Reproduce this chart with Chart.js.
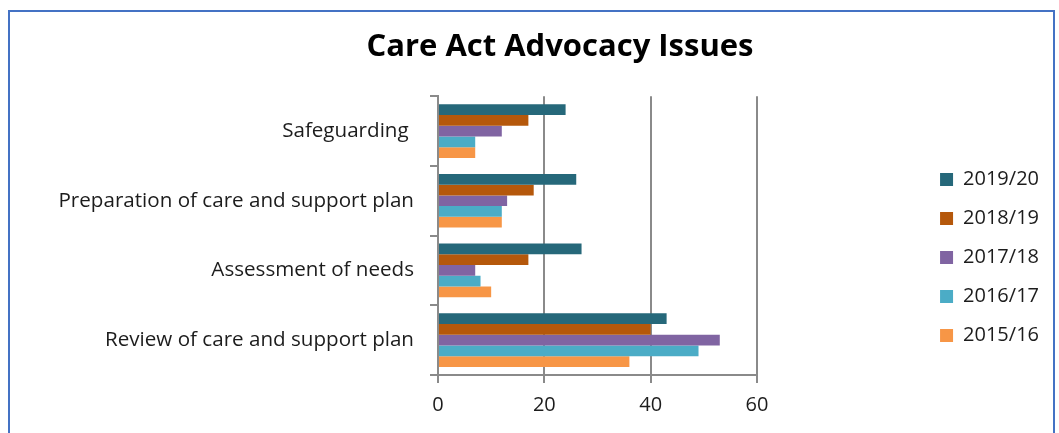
<!DOCTYPE html>
<html>
<head>
<meta charset="utf-8">
<title>Care Act Advocacy Issues</title>
<script src="https://cdn.jsdelivr.net/npm/chart.js@4/dist/chart.umd.min.js"></script>
<style>
  html, body { margin: 0; padding: 0; background: #ffffff; }
  #wrap { position: relative; width: 1059px; height: 433px; }
</style>
</head>
<body>
<div id="wrap"><canvas id="chart" width="1059" height="433"></canvas></div>
<script>
// Issue categories, top to bottom
const categories = [
  'Safeguarding ',
  'Preparation of care and support plan',
  'Assessment of needs',
  'Review of care and support plan'
];

// Number of cases per year
const years = ['2019/20', '2018/19', '2017/18', '2016/17', '2015/16'];
const cases2019 = [24, 26, 27, 43];
const cases2018 = [17, 18, 17, 40];
const cases2017 = [12, 13, 7, 53];
const cases2016 = [7, 12, 8, 49];
const cases2015 = [7, 12, 10, 36];

// Value axis ticks
const xTickMin = 0;
const xTickMax = 60;
const xTickStep = 20;

const seriesValues = [cases2019, cases2018, cases2017, cases2016, cases2015];
const seriesColors = ['#26687A', '#B5580B', '#8064A2', '#4BACC6', '#F79646'];

const FONT = '"Open Sans", Lato, sans-serif';
const LABEL_SIZE = 20;
const CATEGORY_SIZE = 20.6;
const AXIS_GREY = '#8a8a8a';
const TEXT = '#1c1c1c';

// Geometry
const LEGEND_BOX = 13;
const LEGEND_PAD = 19;
const RIGHT_PAD = 10;
const PLOT_LEFT = 438;
const PLOT_RIGHT = 757;
const TITLE_CENTER = 560;

// Blue frame round the chart
const framePlugin = {
  id: 'frame',
  beforeDraw(chart) {
    const ctx = chart.ctx;
    ctx.save();
    ctx.fillStyle = '#ffffff';
    ctx.fillRect(0, 0, chart.width, chart.height);
    ctx.strokeStyle = '#4472C4';
    ctx.lineWidth = 2;
    ctx.strokeRect(9, 11, 1045, 520);
    ctx.restore();
  }
};

// Place the title over plot and legend, and drop the legend column
const boxOffsetPlugin = {
  id: 'boxOffset',
  afterLayout(chart) {
    const lg = chart.legend;
    if (lg) {
      lg.top += 41;
      lg.bottom += 41;
    }
    const t = chart.titleBlock;
    if (t) {
      const shift = TITLE_CENTER - (t.left + t.right) / 2;
      t.left += shift;
      t.right += shift;
    }
  }
};

new Chart(document.getElementById('chart'), {
  type: 'bar',
  data: {
    labels: categories,
    datasets: years.map((y, i) => ({
      label: y,
      data: seriesValues[i],
      backgroundColor: seriesColors[i],
      borderWidth: 0,
      categoryPercentage: 0.77,
      barPercentage: 1.0
    }))
  },
  options: {
    indexAxis: 'y',
    responsive: false,
    animation: false,
    devicePixelRatio: 1,
    layout: { padding: { left: 0, right: RIGHT_PAD, top: 0, bottom: 0 } },
    plugins: {
      title: {
        display: true,
        text: 'Care Act Advocacy Issues',
        color: '#000000',
        font: { family: FONT, size: 31, weight: 'bold' },
        padding: { top: 29, bottom: 30 }
      },
      legend: {
        display: true,
        position: 'right',
        align: 'center',
        labels: {
          boxWidth: LEGEND_BOX,
          boxHeight: LEGEND_BOX,
          padding: LEGEND_PAD,
          color: TEXT,
          font: { family: FONT, size: LABEL_SIZE }
        }
      },
      tooltip: { enabled: false }
    },
    scales: {
      x: {
        type: 'linear',
        position: 'bottom',
        min: xTickMin,
        max: xTickMax,
        ticks: {
          stepSize: xTickStep,
          color: TEXT,
          padding: 10,
          font: { family: FONT, size: LABEL_SIZE }
        },
        grid: {
          color: AXIS_GREY,
          lineWidth: 2,
          tickLength: 8,
          drawTicks: true
        },
        border: { display: true, color: AXIS_GREY, width: 2 },
        afterFit(scale) { scale.height = 58; }
      },
      y: {
        type: 'category',
        position: 'left',
        ticks: {
          color: TEXT,
          padding: 16,
          font: { family: FONT, size: CATEGORY_SIZE }
        },
        grid: {
          offset: true,
          drawOnChartArea: false,
          drawTicks: true,
          tickLength: 8,
          color: AXIS_GREY,
          lineWidth: 2
        },
        border: { display: true, color: AXIS_GREY, width: 2 },
        afterFit(scale) { scale.width = PLOT_LEFT; }
      },
      // empty band between the plot and the legend
      gap: {
        type: 'linear',
        position: 'right',
        display: true,
        ticks: { display: false },
        grid: { display: false, drawTicks: false },
        border: { display: false },
        afterFit(scale) {
          const ctx = scale.ctx;
          ctx.save();
          ctx.font = LABEL_SIZE + 'px ' + FONT;
          const textW = Math.max(...years.map(y => ctx.measureText(y).width));
          ctx.restore();
          const legendW = LEGEND_PAD + LEGEND_BOX + LABEL_SIZE / 2 + textW + 10;
          scale.width = Math.max(0, (1059 - RIGHT_PAD - legendW) - PLOT_RIGHT);
        }
      }
    }
  },
  plugins: [framePlugin, boxOffsetPlugin]
});
</script>
</body>
</html>
